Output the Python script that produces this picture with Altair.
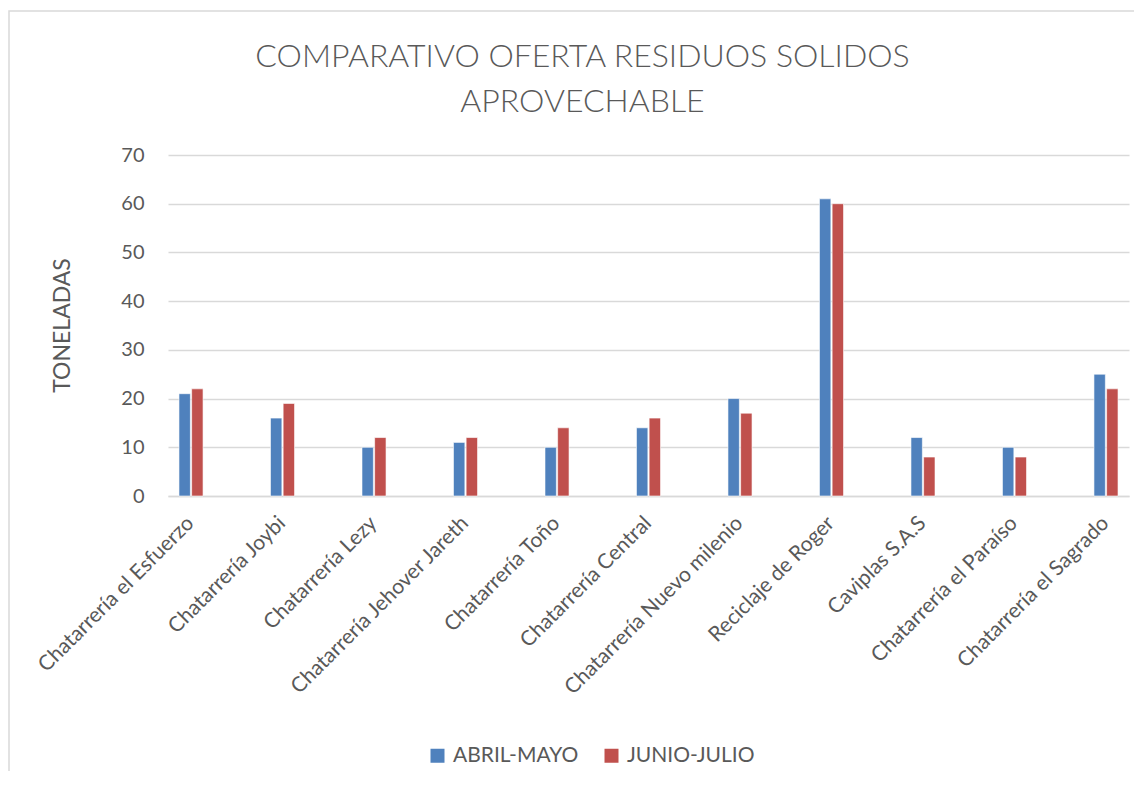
import altair as alt
import pandas as pd

categorias = [
    "Chatarrería el Esfuerzo", "Chatarrería Joybi", "Chatarrería Lezy",
    "Chatarrería Jehover Jareth", "Chatarrería Toño", "Chatarrería Central",
    "Chatarrería Nuevo milenio", "Reciclaje de Roger", "Caviplas S.A.S",
    "Chatarrería el Paraíso", "Chatarrería el Sagrado",
]
abril_mayo = [21, 16, 10, 11, 10, 14, 20, 61, 12, 10, 25]
junio_julio = [22, 19, 12, 12, 14, 16, 17, 60, 8, 8, 22]
series = ["ABRIL-MAYO", "JUNIO-JULIO"]
colores = ["#4F81BD", "#C0504D"]

rows = []
for c, a, j in zip(categorias, abril_mayo, junio_julio):
    rows.append({"cat": c, "serie": series[0], "val": a})
    rows.append({"cat": c, "serie": series[1], "val": j})
df = pd.DataFrame(rows)

FONT = "Lato"
TXT = "#595959"

bars = alt.Chart(df).mark_bar(stroke="white", strokeWidth=0.6).encode(
    x=alt.X("cat:N", sort=categorias,
            scale=alt.Scale(paddingInner=0.737, paddingOuter=0.12),
            axis=alt.Axis(title=None, labelAngle=-45, labelAlign="right",
                          labelBaseline="top", labelPadding=16, labelOffset=-8,
                          ticks=False, domain=True, domainColor="#D9D9D9",
                          domainWidth=1.5, labelFontSize=21, labelColor=TXT,
                          labelFont=FONT, labelLimit=400)),
    xOffset=alt.XOffset("serie:N", sort=series,
                        scale=alt.Scale(paddingInner=0.1)),
    y=alt.Y("val:Q", scale=alt.Scale(domain=[0, 70]),
            axis=alt.Axis(title="TONELADAS", values=[0, 10, 20, 30, 40, 50, 60, 70],
                          ticks=False, domain=False, labelPadding=24,
                          labelFontSize=20, labelColor=TXT, labelFont=FONT,
                          titleFontSize=23, titleColor=TXT, titleFont=FONT,
                          titleFontWeight="normal", titleAngle=-90,
                          titleX=-106, titleY=170, titleAlign="center",
                          titleBaseline="middle",
                          gridColor="#D9D9D9", gridWidth=1.5)),
    color=alt.Color("serie:N", sort=series,
                    scale=alt.Scale(domain=series, range=colores),
                    legend=alt.Legend(title=None, orient="none", direction="horizontal",
                                      legendX=259, legendY=590, symbolType="square",
                                      symbolSize=196, symbolStrokeWidth=0,
                                      labelFontSize=21, labelColor=TXT, labelFont=FONT,
                                      labelOffset=5, columnPadding=22, padding=0)),
)

borde = alt.Chart(pd.DataFrame({"b": [0]})).mark_rect(
    fill=None, stroke="#D9D9D9", strokeWidth=1.5
).encode(
    x=alt.value(-159), x2=alt.value(1000),
    y=alt.value(-144), y2=alt.value(700),
)

chart = alt.layer(borde, bars).properties(
    width=961, height=341,
    title=alt.TitleParams(["COMPARATIVO OFERTA RESIDUOS SOLIDOS", "APROVECHABLE"],
                          fontSize=32, font=FONT, fontWeight=300, color=TXT,
                          anchor="middle", frame="group", dx=-66, offset=-109,
                          lineHeight=45),
    autosize=alt.AutoSizeParams(type="none"),
    padding={"left": 160, "top": 147, "right": 5, "bottom": 275},
).configure_view(stroke=None)

chart.save("out.html", embed_options={"renderer": "svg", "actions": False})
